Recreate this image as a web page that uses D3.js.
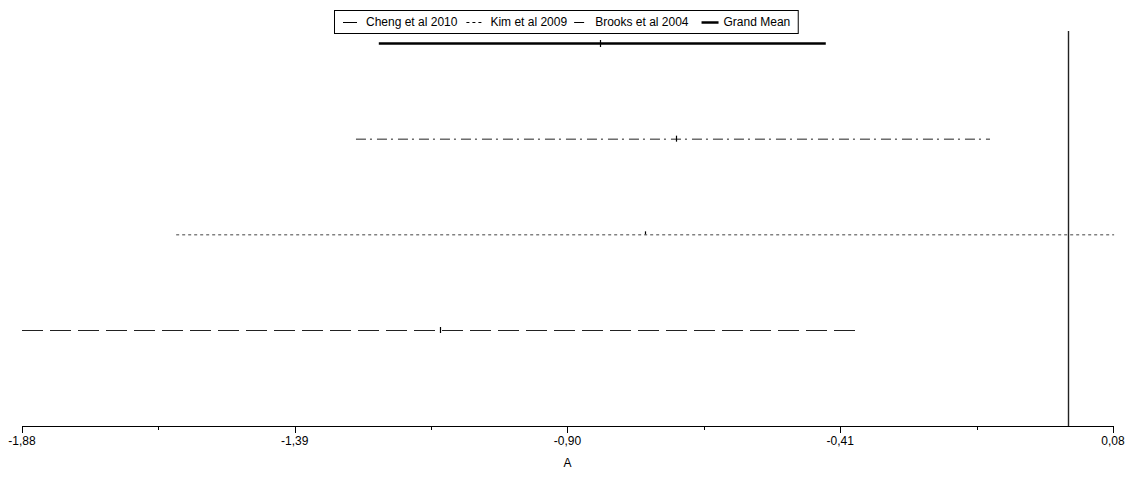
<!DOCTYPE html>
<html>
    <head>
        <script src="https://d3js.org/d3.v7.min.js"></script>
        <style>
          body { margin: 0; background: #ffffff; }
          #chart { width: 1135px; height: 478px; position: relative; }
          text { font-family: "Liberation Sans", Arial, sans-serif; font-size: 12px; fill: #000; }
      </style>
    </head>
    <body>
        <div id="chart"></div>
        <script>

            /* DATA (top row to bottom row) */
            var series = ["Grand Mean", "Brooks et al 2004", "Kim et al 2009", "Cheng et al 2010"];
            var lower  = [-1.239, -1.280, -1.603, -1.880];
            var mean   = [-0.842, -0.705, -0.761, -1.129];
            var upper  = [-0.436, -0.141,  0.082, -0.378];

            var legendOrder = ["Cheng et al 2010", "Kim et al 2009", "Brooks et al 2004", "Grand Mean"];
            var tickValues = [-1.88, -1.39, -0.90, -0.41, 0.08];
            var minorTicks = [-1.635, -1.145, -0.655, -0.165];
            var axisTitle = "A";

            /* line styles per series */
            var styles = {
                "Grand Mean":        {dash: null,        width: 2.5, color: "#000000", tick: [-3, 4], sym: 17},
                "Brooks et al 2004": {dash: "10,4,2,5",  width: 1,   color: "#222222", tick: [-3, 3], sym: 14},
                "Kim et al 2009":    {dash: "3,3",       width: 1,   color: "#444444", tick: [-3, 0], sym: 16},
                "Cheng et al 2010":  {dash: "21,7",      width: 1,   color: "#222222", tick: [-3, 3], sym: 14}
            };
            // legend spacing: symbol start -> text start, text end -> next symbol
            var legendTextOffset = [23, 24, 21, 22];
            var legendGap = [9, 7, 13, 8];

            var rows = series.map(function(s, i) {
                return {name: s, lo: lower[i], mid: mean[i], hi: upper[i]};
            });

            var width = 1135, height = 478;
            var svg = d3.select("#chart").append("svg")
                .attr("width", width)
                .attr("height", height);

            var x = d3.scaleLinear().domain([-1.88, 0.08]).range([22, 1113]);
            var y = d3.scalePoint().domain(series).range([43, 330]);
            var axisY = 426;

            var loc = d3.formatLocale({decimal: ",", thousands: ".", grouping: [3], currency: ["", ""], minus: "-"});
            var fmt = loc.format(".2f");

            /* zero reference line */
            svg.append("line")
                .attr("x1", Math.round(x(0)) + 0.5).attr("x2", Math.round(x(0)) + 0.5)
                .attr("y1", 31).attr("y2", axisY)
                .attr("stroke", "#222").attr("stroke-width", 1.4);

            /* interval lines */
            var g = svg.append("g");
            g.selectAll("line.ci")
                .data(rows)
                .enter()
                .append("line")
                    .attr("class", "ci")
                    .attr("x1", function(d) { return x(d.lo); })
                    .attr("x2", function(d) { return x(d.hi); })
                    .attr("y1", function(d) { return y(d.name) + 0.5; })
                    .attr("y2", function(d) { return y(d.name) + 0.5; })
                    .attr("stroke", function(d) { return styles[d.name].color; })
                    .attr("stroke-width", function(d) { return styles[d.name].width; })
                    .attr("stroke-dasharray", function(d) { return styles[d.name].dash; });

            g.selectAll("line.mid")
                .data(rows)
                .enter()
                .append("line")
                    .attr("class", "mid")
                    .attr("x1", function(d) { return Math.round(x(d.mid)) + 0.5; })
                    .attr("x2", function(d) { return Math.round(x(d.mid)) + 0.5; })
                    .attr("y1", function(d) { return y(d.name) + styles[d.name].tick[0]; })
                    .attr("y2", function(d) { return y(d.name) + styles[d.name].tick[1]; })
                    .attr("stroke", "#000")
                    .attr("stroke-width", 1.2);

            /* x axis */
            var axis = svg.append("g");
            axis.append("line")
                .attr("x1", x(-1.88)).attr("x2", x(0.08) + 1)
                .attr("y1", axisY + 0.5).attr("y2", axisY + 0.5)
                .attr("stroke", "#000");
            axis.selectAll("line.major")
                .data(tickValues).enter().append("line")
                .attr("class", "major")
                .attr("x1", function(d) { return Math.round(x(d)) + 0.5; })
                .attr("x2", function(d) { return Math.round(x(d)) + 0.5; })
                .attr("y1", axisY).attr("y2", axisY + 7)
                .attr("stroke", "#000");
            axis.selectAll("line.minor")
                .data(minorTicks).enter().append("line")
                .attr("class", "minor")
                .attr("x1", function(d) { return Math.round(x(d)) + 0.5; })
                .attr("x2", function(d) { return Math.round(x(d)) + 0.5; })
                .attr("y1", axisY).attr("y2", axisY + 4)
                .attr("stroke", "#000");
            axis.selectAll("text.tl")
                .data(tickValues).enter().append("text")
                .attr("class", "tl")
                .attr("x", function(d) { return x(d); })
                .attr("y", axisY + 19)
                .attr("text-anchor", "middle")
                .text(function(d) { return fmt(d); });
            axis.append("text")
                .attr("x", x(-0.90))
                .attr("y", axisY + 41)
                .attr("text-anchor", "middle")
                .text(axisTitle);

            /* legend */
            var lg = svg.append("g");
            var box = lg.append("rect")
                .attr("x", 334.5).attr("y", 10.5)
                .attr("height", 23)
                .attr("fill", "#fff").attr("stroke", "#000");
            var cx = 343;
            legendOrder.forEach(function(name, i) {
                var st = styles[name];
                lg.append("line")
                    .attr("x1", cx).attr("x2", cx + st.sym)
                    .attr("y1", 22.5).attr("y2", 22.5)
                    .attr("stroke", "#000")
                    .attr("stroke-width", st.width)
                    .attr("stroke-dasharray", st.dash);
                var t = lg.append("text")
                    .attr("x", cx + legendTextOffset[i])
                    .attr("y", 26)
                    .text(name);
                cx = cx + legendTextOffset[i] + t.node().getComputedTextLength() + legendGap[i];
            });
            box.attr("width", cx - 334.5);

        </script>
    </body>
</html>
